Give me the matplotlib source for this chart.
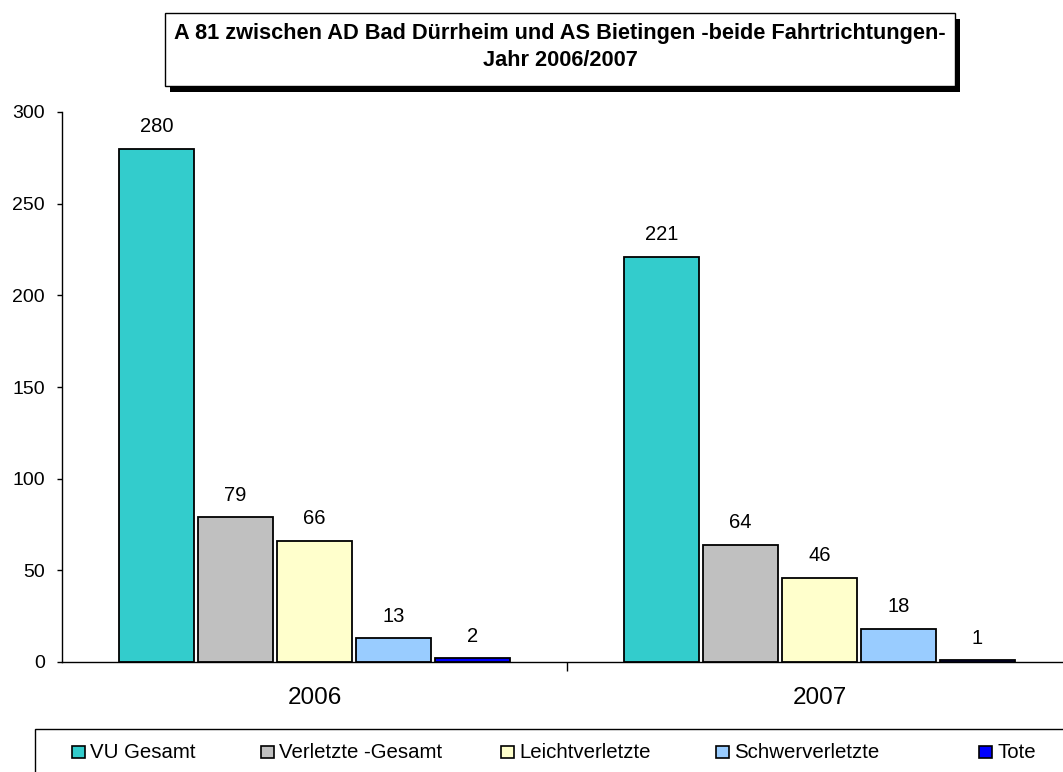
import matplotlib
matplotlib.use("Agg")
import matplotlib.pyplot as plt
import numpy as np
from matplotlib.patches import Rectangle

years = ["2006", "2007"]
series = ["VU Gesamt", "Verletzte -Gesamt", "Leichtverletzte", "Schwerverletzte", "Tote"]
values = {
    "VU Gesamt": [280, 221],
    "Verletzte -Gesamt": [79, 64],
    "Leichtverletzte": [66, 46],
    "Schwerverletzte": [13, 18],
    "Tote": [2, 1],
}
colors = ["#33CCCC", "#C0C0C0", "#FFFFCC", "#99CCFF", "#0000FF"]
title_lines = ["A 81 zwischen AD Bad Dürrheim und AS Bietingen -beide Fahrtrichtungen-",
               "Jahr 2006/2007"]

plt.rcParams["font.family"] = ["Liberation Sans", "DejaVu Sans"]

W, H = 1063, 772
fig = plt.figure(figsize=(W / 100, H / 100), dpi=100)

def fx(px):
    return px / W

def fy(py):
    return 1 - py / H

ax = fig.add_axes([fx(62), fy(662), fx(1072) - fx(62), fy(112) - fy(662)])

step = 0.1564
width = 0.149
centers = np.arange(len(years)) + 0.5
for i, (name, col) in enumerate(zip(series, colors)):
    xs = centers + (i - 2) * step
    bars = ax.bar(xs, values[name], width=width, color=col, edgecolor="black",
                  linewidth=1.3, zorder=3)
    for b, v in zip(bars, values[name]):
        ax.annotate(str(v), (b.get_x() + b.get_width() / 2, v),
                    xytext=(0, 9), textcoords="offset points",
                    ha="center", va="bottom", fontsize=14.5)

ax.set_xlim(0, len(years))
ax.set_ylim(0, 300)
ax.set_yticks(range(0, 301, 50))
ax.set_xticks([1])
ax.set_xticklabels([])
ax.set_xticks(centers, minor=True)
ax.set_xticklabels(years, minor=True, fontsize=17.5)
ax.tick_params(axis="x", which="minor", length=0, pad=18)
ax.tick_params(axis="x", which="major", length=6.5, width=1)
ax.tick_params(axis="y", length=3.6, width=1, labelsize=14, pad=8.6)
for s in ["top", "right"]:
    ax.spines[s].set_visible(False)
ax.spines["left"].set_linewidth(1)
ax.spines["bottom"].set_linewidth(1)
ax.spines["left"].set_bounds(0, 300)

# title box with drop shadow
fig.patches.append(Rectangle((fx(170), fy(92)), fx(955) - fx(165), fy(13) - fy(86),
                             transform=fig.transFigure, facecolor="black",
                             edgecolor="none", zorder=1))
fig.patches.append(Rectangle((fx(165), fy(86)), fx(955) - fx(165), fy(13) - fy(86),
                             transform=fig.transFigure, facecolor="white",
                             edgecolor="black", linewidth=1, zorder=2))
fig.text(fx(560), fy(33), title_lines[0], ha="center", va="center",
         fontsize=15.7, fontweight="bold", zorder=3)
fig.text(fx(560), fy(61), title_lines[1], ha="center", va="center",
         fontsize=15.7, fontweight="bold", zorder=3)

# legend box
fig.patches.append(Rectangle((fx(35), fy(790)), fx(1090) - fx(35), fy(729) - fy(790),
                             transform=fig.transFigure, facecolor="white",
                             edgecolor="black", linewidth=1, zorder=1))
legend_x = [72, 261, 501, 716, 979]
for name, col, lx in zip(series, colors, legend_x):
    fig.patches.append(Rectangle((fx(lx), fy(758)), fx(13), fy(746) - fy(758),
                                 transform=fig.transFigure, facecolor=col,
                                 edgecolor="black", linewidth=1.2, zorder=2))
    fig.text(fx(lx + 18), fy(752), name, ha="left", va="center", fontsize=14.7, zorder=3)

fig.savefig("out.png", dpi=100)
